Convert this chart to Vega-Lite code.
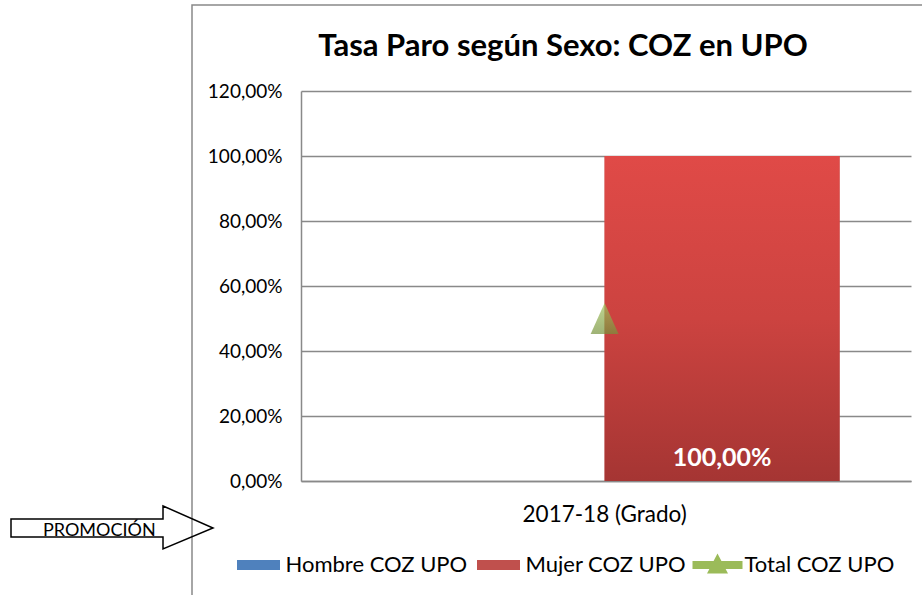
{
  "$schema": "https://vega.github.io/schema/vega-lite/v6.json",
  "width": 730,
  "height": 590,
  "autosize": {"type": "none"},
  "padding": {"left": 192, "top": 5, "right": 0, "bottom": 0},
  "background": "white",
  "title": {
    "text": "Tasa Paro según Sexo: COZ en UPO",
    "anchor": "middle",
    "frame": "group",
    "font": "Lato",
    "fontSize": 31,
    "fontWeight": "bold",
    "color": "black",
    "baseline": "alphabetic",
    "offset": 0,
    "dy": 82,
    "dx": 6
  },
  "config": {
    "locale": {"number": {"decimal": ",", "thousands": ".", "grouping": [3], "currency": ["", " €"]}},
    "view": {"stroke": "#898989", "strokeWidth": 1.5, "strokeDash": [730, 1320, 590]},
    "font": "Lato"
  },
  "data": {
    "values": [
      {"promocion": "2017-18 (Grado)", "serie": "Hombre COZ UPO", "tasa": 0},
      {"promocion": "2017-18 (Grado)", "serie": "Mujer COZ UPO", "tasa": 1},
      {"promocion": "2017-18 (Grado)", "serie": "Total COZ UPO", "tasa": 0.5}
    ]
  },
  "encoding": {
    "x": {
      "field": "promocion",
      "type": "nominal",
      "scale": {"range": [109, 719], "paddingInner": 0, "paddingOuter": 0.149, "align": 0.49},
      "axis": {
        "title": null,
        "labelAngle": 0,
        "labelFont": "Lato",
        "labelFontSize": 22.5,
        "labelColor": "black",
        "labelPadding": 22,
        "ticks": false,
        "tickSize": 0,
        "grid": false,
        "offset": -114,
        "domainColor": "#898989",
        "domainWidth": 1.5
      }
    },
    "y": {
      "field": "tasa",
      "type": "quantitative",
      "scale": {"domain": [0, 1.2], "range": [476, 86], "nice": false, "zero": true},
      "axis": {
        "title": null,
        "values": [0, 0.2, 0.4, 0.6, 0.8, 1, 1.2],
        "format": ".2%",
        "labelFont": "Lato",
        "labelFontSize": 19,
        "labelColor": "black",
        "labelPadding": 19,
        "ticks": false,
        "tickSize": 0,
        "offset": -109,
        "grid": true,
        "gridColor": "#898989",
        "gridWidth": 1.5,
        "domainColor": "#898989",
        "domainWidth": 1.5
      }
    }
  },
  "layer": [
    {
      "transform": [{"filter": "datum.serie !== 'Total COZ UPO'"}],
      "mark": {"type": "bar"},
      "encoding": {
        "xOffset": {
          "field": "serie",
          "type": "nominal",
          "scale": {"domain": ["Hombre COZ UPO", "Mujer COZ UPO"], "paddingInner": 0, "paddingOuter": 0}
        },
        "color": {
          "field": "serie",
          "type": "nominal",
          "scale": {
            "domain": ["Hombre COZ UPO", "Mujer COZ UPO", "Total COZ UPO"],
            "range": ["#4f81bd", "#c0504d", "#9bbb59"]
          },
          "legend": {
            "orient": "none",
            "direction": "horizontal",
            "legendX": 41.5,
            "legendY": 535,
            "title": null,
            "padding": 0,
            "symbolSize": 2500,
            "labelFont": "Lato",
            "labelFontSize": 22,
            "labelColor": "black",
            "labelOffset": 2,
            "labelLimit": 400,
            "columnPadding": 6,
            "symbolOpacity": 1,
            "encode": {
              "symbols": {
                "update": {
                  "shape": {"signal": "datum.value === 'Total COZ UPO' ? 'M-1,-0.16L1,-0.16L1,0.16L-1,0.16Z M0,-0.46L0.42,0.34L-0.42,0.34Z' : 'M-0.86,-0.2L0.86,-0.2L0.86,0.2L-0.86,0.2Z'"},
                  "strokeWidth": {"value": 0}
                }
              }
            }
          }
        },
        "opacity": {
          "datum": "PROMOCIÓN",
          "type": "nominal",
          "scale": {"range": [1]},
          "legend": {
            "orient": "none",
            "legendX": -182,
            "legendY": 424,
            "title": null,
            "padding": 0,
            "symbolSize": 40804,
            "symbolType": "M-1,-0.119L0.505,-0.119L0.505,-0.248L1,-0.03L0.505,0.178L0.505,0.059L-1,0.059Z",
            "symbolFillColor": "transparent",
            "symbolStrokeColor": "black",
            "symbolStrokeWidth": 1.5,
            "symbolOpacity": 1,
            "labelFont": "Lato",
            "labelFontSize": 18,
            "labelColor": "black",
            "labelOffset": -171,
            "labelLimit": 300
          }
        }
      }
    },
    {
      "transform": [{"filter": "datum.serie === 'Mujer COZ UPO'"}],
      "mark": {
        "type": "bar",
        "color": {
          "gradient": "linear",
          "x1": 0, "y1": 0, "x2": 0, "y2": 1,
          "stops": [
            {"offset": 0, "color": "#e04a47"},
            {"offset": 0.5, "color": "#cc4340"},
            {"offset": 1, "color": "#a53533"}
          ]
        }
      },
      "encoding": {
        "xOffset": {"field": "serie", "type": "nominal"}
      }
    },
    {
      "transform": [{"filter": "datum.serie === 'Mujer COZ UPO'"}],
      "mark": {"type": "text", "color": "white", "font": "Lato", "fontSize": 25, "fontWeight": "bold", "baseline": "alphabetic", "dy": -15},
      "encoding": {
        "xOffset": {"field": "serie", "type": "nominal"},
        "y": {"datum": 0},
        "text": {"field": "tasa", "type": "quantitative", "format": ".2%"}
      }
    },
    {
      "transform": [{"filter": "datum.serie === 'Total COZ UPO'"}],
      "mark": {
        "type": "point",
        "filled": true,
        "shape": "M0,-1L0.9,1L-0.9,1Z",
        "size": 961,
        "strokeWidth": 0,
        "color": {
          "gradient": "linear",
          "x1": 0, "y1": 0, "x2": 0, "y2": 1,
          "stops": [
            {"offset": 0, "color": "#a3c45f"},
            {"offset": 1, "color": "#76923c"}
          ]
        }
      },
      "encoding": {}
    }
  ]
}
